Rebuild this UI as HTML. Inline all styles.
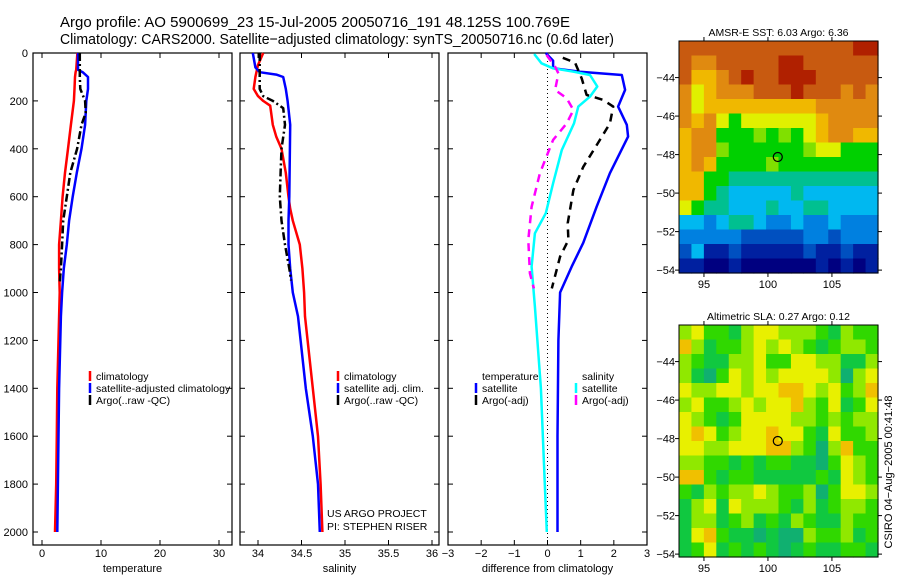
<!DOCTYPE html>
<html><head><meta charset="utf-8">
<style>
body{margin:0;background:#fff;}
svg{display:block;font-family:"Liberation Sans",sans-serif;}
</style></head>
<body>
<svg id="fig" width="900" height="580" viewBox="0 0 900 580">
<text x="60" y="27" font-size="15" textLength="510" lengthAdjust="spacingAndGlyphs">Argo profile: AO 5900699_23 15-Jul-2005 20050716_191 48.125S 100.769E</text>
<text x="60" y="44" font-size="15" textLength="554" lengthAdjust="spacingAndGlyphs">Climatology: CARS2000. Satellite−adjusted climatology: synTS_20050716.nc (0.6d later)</text>
<g id="plots"></g>
</svg>
<script>
// ---------- data ----------
const tDepth = [0,70,80,100,150,200,300,400,500,600,700,800,900,1000,1100,1200,1400,1600,1800,2000];
const tClim  = [6.0,5.8,5.7,5.6,5.5,5.4,4.9,4.4,3.9,3.5,3.2,2.9,2.9,3.0,2.9,2.8,2.6,2.5,2.4,2.2];
const tSat   = [6.1,6.1,6.9,7.8,7.8,7.5,7.3,6.7,5.9,5.2,4.6,4.2,3.7,3.4,3.2,3.1,2.9,2.8,2.7,2.6];
const aDepth = [0,100,150,200,250,300,400,500,600,700,800,900,960];
const tArgo  = [6.4,6.4,6.5,7.3,7.4,6.7,5.95,4.8,4.2,3.6,3.4,3.2,3.0];

const sDepth = [0,50,100,150,180,200,220,300,350,400,500,600,650,700,800,900,1000,1100,1200,1400,1600,1800,2000];
const sClim  = [34.06,34.0,33.97,33.95,34.0,34.06,34.14,34.17,34.21,34.27,34.32,34.35,34.37,34.40,34.48,34.51,34.53,34.54,34.57,34.63,34.69,34.72,34.74];
const sSatDepth = [0,60,80,90,100,150,200,300,600,700,800,900,1000,1100,1200,1400,1600,1800,2000];
const sSat   = [33.94,33.97,34.02,34.21,34.29,34.32,34.34,34.37,34.36,34.35,34.35,34.37,34.40,34.46,34.49,34.55,34.63,34.69,34.71];
const sArgoDepth = [0,150,180,200,230,300,400,500,600,700,800,900,950];
const sArgo  = [34.02,34.02,34.06,34.17,34.29,34.31,34.27,34.26,34.25,34.27,34.31,34.36,34.38];

const dTSatDepth = [0,32,64,78,92,154,224,300,349,502,642,792,892,1000,1200,1600,2000];
const dTSat  = [-0.05,0.17,0.17,0.98,2.24,2.34,2.13,2.39,2.43,1.88,1.48,1.08,0.73,0.38,0.33,0.3,0.3];
const dTArgoDepth = [20,40,106,175,196,224,294,363,475,572,711,781,850,983];
const dTArgo = [0.46,0.83,1.03,1.18,1.68,1.98,1.88,1.58,1.08,0.78,0.61,0.63,0.38,0.13];
const dSSatDepth = [4,43,64,78,92,140,182,224,294,405,544,669,753,892,1059,1400,1800,2000];
const dSSat  = [-0.4,-0.18,0.17,0.78,1.28,1.5,1.28,0.93,0.8,0.43,0.17,-0.05,-0.38,-0.48,-0.38,-0.2,-0.08,-0.02];
const dSArgoDepth = [8,57,85,154,189,238,294,363,502,642,781,920,983];
const dSArgo = [-0.03,0.23,0.33,0.23,0.58,0.78,0.58,0.17,-0.23,-0.48,-0.58,-0.53,-0.41];

const depthTicks = [0,200,400,600,800,1000,1200,1400,1600,1800,2000];
const tTicks = [0,10,20,30];
const sTicks = [34,34.5,35,35.5,36];
const dTicks = [-3,-2,-1,0,1,2,3];

const sstPalette = ['#b02000','#c85a10','#e08a10','#f0b800','#e0f000','#80e000','#00d000','#00c090','#00b8f0','#0080e0','#0050c0','#0020a0','#000080'];
const sstGrid = [
"1111111111111100","1221111100111111","1332101100011111","2432221110111212",
"2433333333322222","2324644444432222","3226665656432233","3225666666544666",
"3236666566666666","3366777777777777","3367888887888888","4677888788778888",
"8898778998998999","99999xxxxx99x999","x8yyxyyyyyxyyxyy","yyzzyzzzzzzyzyzy"];
const slaPalette = ['#10b070','#10c840','#30d800','#90e800','#e8f000','#f0c000'];
const slaGrid = [
"3422134433321322","5312234343212332","3211334224433113","3102434344443034",
"4334434455434235","3422343445324124","4321244443323233","4542344544214223",
"4433444553203522","3322121221102432","5521221111121432","2132334322302443",
"1341433321312332","1331231213211322","1452110100322312","1241212101211221"];
const mapLon = [95,100,105];
const mapLat = [-44,-46,-48,-50,-52,-54];
const argoLon = 100.769, argoLat = -48.125;

// ---------- helpers ----------
const NS = 'http://www.w3.org/2000/svg';
const root = document.getElementById('plots');
function mk(tag, attrs, parent){const e=document.createElementNS(NS,tag);for(const k in attrs)e.setAttribute(k,attrs[k]);(parent||root).appendChild(e);return e;}
const Y0=53, Y1=545;
const yD = d => 53 + d*0.2395;
function linScale(v0,p0,v1,p1){return v=>p0+(v-v0)*(p1-p0)/(v1-v0);}

function panel(name,x0,x1,xs,ticks,fmt,xlabel,leftLabels){
  const g=mk('g',{});
  
  
  const r=mk('rect',{x:x0,y:Y0,width:x1-x0,height:Y1-Y0,fill:'none',stroke:'#000','stroke-width':1.2},g);
  
  
  depthTicks.forEach(d=>{
    const y=yD(d);
    mk('line',{x1:x0,x2:x0+5,y1:y,y2:y,stroke:'#000'},g);
    mk('line',{x1:x1-5,x2:x1,y1:y,y2:y,stroke:'#000'},g);
    if(leftLabels){
      const t=mk('text',{x:x0-5,y:y+4,'font-size':11,'text-anchor':'end'},g);
      t.textContent=d;
      
      
    }
  });
  ticks.forEach(v=>{
    const x=xs(v);
    mk('line',{x1:x,x2:x,y1:Y0,y2:Y0+5,stroke:'#000'},g);
    mk('line',{x1:x,x2:x,y1:Y1-5,y2:Y1,stroke:'#000'},g);
    const t=mk('text',{x:x,y:557,'font-size':11,'text-anchor':'middle'},g);
    t.textContent=fmt(v);
    
    
  });
  const xl=mk('text',{x:(x0+x1)/2,y:572,'font-size':11,'text-anchor':'middle'},g);
  xl.textContent=xlabel;
  
  
  return g;
}
function series(g,name,depths,vals,xs,color,dash,w){
  const pts=depths.map((d,i)=>xs(vals[i]).toFixed(1)+','+yD(d).toFixed(1)).join(' ');
  const p=mk('polyline',{points:pts,fill:'none',stroke:color,'stroke-width':w||2.5,'stroke-dasharray':dash||'none','stroke-linejoin':'round'},g);
  
  
}
function legend(g,x,y,color,label,name){
  if(color) mk('line',{x1:x,x2:x,y1:y-9,y2:y+1,stroke:color,'stroke-width':2.5},g);
  const t=mk('text',{x:x+6,y:y,'font-size':10.5},g);
  t.textContent=label;
  
  
}

// ---------- panel 1: temperature ----------
const xT=linScale(0,42,30,219);
const g1=panel('temperature-panel',33,232,xT,tTicks,v=>v,'temperature',true);
series(g1,'temp-climatology-line',tDepth,tClim,xT,'#ff0000');
series(g1,'temp-satellite-line',tDepth,tSat,xT,'#0000ff');
series(g1,'temp-argo-line',aDepth,tArgo,xT,'#000','8,3,2,3');
legend(g1,90,380,'#ff0000','climatology','legend-climatology');
legend(g1,90,392,'#0000ff','satellite-adjusted climatology','legend-satellite');
legend(g1,90,404,'#000','Argo(..raw -QC)','legend-argo');

// ---------- panel 2: salinity ----------
const xS=linScale(34,258,36,432);
const g2=panel('salinity-panel',240,439,xS,sTicks,v=>v,'salinity',false);
series(g2,'sal-climatology-line',sDepth,sClim,xS,'#ff0000');
series(g2,'sal-satellite-line',sSatDepth,sSat,xS,'#0000ff');
series(g2,'sal-argo-line',sArgoDepth,sArgo,xS,'#000','8,3,2,3');
legend(g2,338,380,'#ff0000','climatology','legend-climatology');
legend(g2,338,392,'#0000ff','satellite adj. clim.','legend-satellite');
legend(g2,338,404,'#000','Argo(..raw -QC)','legend-argo');
[['US ARGO PROJECT',517],['PI: STEPHEN RISER',530]].forEach(a=>{
  const t=mk('text',{x:327,y:a[1],'font-size':10.5},g2);t.textContent=a[0];
  
  
});

// ---------- panel 3: difference ----------
const xDf=linScale(-3,448,3,647);
const g3=panel('difference-panel',448,647,xDf,dTicks,v=>v<0?'\u2212'+(-v):v,'difference from climatology',false);
mk('line',{x1:xDf(0),x2:xDf(0),y1:Y0,y2:Y1,stroke:'#000','stroke-dasharray':'1,3'},g3);
series(g3,'diff-temp-satellite-line',dTSatDepth,dTSat,xDf,'#0000ff');
series(g3,'diff-sal-satellite-line',dSSatDepth,dSSat,xDf,'#00ffff');
series(g3,'diff-temp-argo-line',dTArgoDepth,dTArgo,xDf,'#000','8,6');
series(g3,'diff-sal-argo-line',dSArgoDepth,dSArgo,xDf,'#ff00ff','8,6');
legend(g3,476,380,null,'temperature','legend-temperature-header');
legend(g3,476,392,'#0000ff','satellite','legend-temp-satellite');
legend(g3,476,404,'#000','Argo(-adj)','legend-temp-argo');
legend(g3,576,380,null,'salinity','legend-salinity-header');
legend(g3,576,392,'#00ffff','satellite','legend-sal-satellite');
legend(g3,576,404,'#ff00ff','Argo(-adj)','legend-sal-argo');

// ---------- maps ----------
function drawMap(name,top,grid,palette,title,codes){
  const x0=679,x1=878,y0=top,y1=top+232;
  const xs=linScale(93.05,x0,108.6,x1), ys=linScale(-42.1,y0,-54.15,y1);
  const g=mk('g',{});
  
  
  const rows=grid.length, cols=grid[0].length, cw=(x1-x0)/cols, ch=(y1-y0)/rows;
  grid.forEach((row,r)=>{[...row].forEach((c,k)=>{
    const idx=codes(c);
    mk('rect',{x:x0+k*cw,y:y0+r*ch,width:cw+0.6,height:ch+0.6,fill:palette[idx]},g);
  });});
  mk('rect',{x:x0,y:y0,width:x1-x0,height:y1-y0,fill:'none',stroke:'#000'},g);
  mapLon.forEach(l=>{const x=xs(l);
    mk('line',{x1:x,x2:x,y1:y0-4,y2:y0,stroke:'#000'},g);
    mk('line',{x1:x,x2:x,y1:y1,y2:y1+4,stroke:'#000'},g);
    const t=mk('text',{x:x,y:y1+15,'font-size':11,'text-anchor':'middle'},g);t.textContent=l;
    
    
  });
  mapLat.forEach(l=>{const y=ys(l);
    mk('line',{x1:x0-4,x2:x0,y1:y,y2:y,stroke:'#000'},g);
    mk('line',{x1:x1,x2:x1+4,y1:y,y2:y,stroke:'#000'},g);
    const t=mk('text',{x:x0-4,y:y+4,'font-size':11,'text-anchor':'end'},g);t.textContent='\u2212'+(-l);
    
    
  });
  const c=mk('circle',{cx:xs(argoLon),cy:ys(argoLat),r:4.5,fill:'none',stroke:'#000','stroke-width':1.2},g);
  
  
  const t=mk('text',{x:(x0+x1)/2,y:y0-5,'font-size':10.5,'text-anchor':'middle'},g);t.textContent=title;
  
  
}
drawMap('sst-map',41,sstGrid,sstPalette,'AMSR-E SST: 6.03 Argo: 6.36',ch=>ch==='x'?10:ch==='y'?11:ch==='z'?12:+ch);
drawMap('sla-map',325,slaGrid,slaPalette,'Altimetric SLA: 0.27 Argo: 0.12',ch=>+ch);
const cs=mk('text',{x:0,y:0,'font-size':11,'text-anchor':'middle',transform:'translate(892,472) rotate(-90)'});
cs.textContent='CSIRO 04\u2212Aug\u22122005 00:41:48';


</script>
</body></html>
